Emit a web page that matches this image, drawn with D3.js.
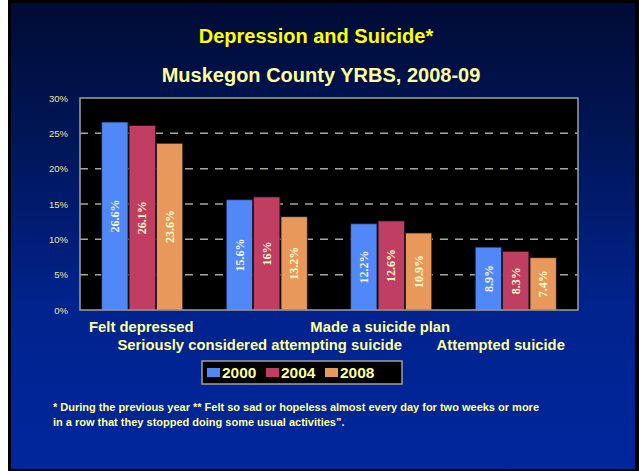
<!DOCTYPE html>
<html>
<head>
<meta charset="utf-8">
<script src="https://d3js.org/d3.v7.min.js"></script>
<title>Depression and Suicide</title>
<style>
  html, body { margin: 0; padding: 0; background: #ffffff; }
  svg { display: block; }
</style>
</head>
<body>
<svg id="chart" width="639" height="471"></svg>
<script>
// data
var categories = ["Felt depressed", "Seriously considered attempting suicide", "Made a suicide plan", "Attempted suicide"];
var years = ["2000", "2004", "2008"];
var v2000 = [26.6, 15.6, 12.2, 8.9];
var v2004 = [26.1, 16, 12.6, 8.3];
var v2008 = [23.6, 13.2, 10.9, 7.4];
var yTicks = [0, 5, 10, 15, 20, 25, 30];
var colors = ["#5088f8", "#c03e62", "#e8985a"];

var series = [v2000, v2004, v2008];
var svg = d3.select("#chart");

// slide background
var defs = svg.append("defs");
var grad = defs.append("linearGradient").attr("id", "bg")
  .attr("x1", 0).attr("y1", 0).attr("x2", 0).attr("y2", 1);
grad.append("stop").attr("offset", "0%").attr("stop-color", "#000c36");
grad.append("stop").attr("offset", "30%").attr("stop-color", "#001658");
grad.append("stop").attr("offset", "65%").attr("stop-color", "#00238e");
grad.append("stop").attr("offset", "100%").attr("stop-color", "#00269c");

svg.append("rect").attr("x", 8).attr("y", 0).attr("width", 631).attr("height", 471).attr("fill", "#000000");
svg.append("rect").attr("x", 11).attr("y", 3).attr("width", 624).attr("height", 466).attr("fill", "url(#bg)");

// titles
svg.append("text").attr("x", 316).attr("y", 43).attr("text-anchor", "middle")
  .attr("font-family", "Liberation Sans, Arial, sans-serif").attr("font-weight", 700)
  .attr("font-size", "20px").attr("fill", "#ffff00").text("Depression and Suicide*");
svg.append("text").attr("x", 321).attr("y", 82).attr("text-anchor", "middle")
  .attr("font-family", "Liberation Sans, Arial, sans-serif").attr("font-weight", 700)
  .attr("font-size", "20px").attr("fill", "#ffff99").text("Muskegon County YRBS, 2008-09");

// plot area
var pLeft = 80, pRight = 578, pTop = 98, pBottom = 310;
var x = d3.scaleBand().domain(categories).range([pLeft, pRight]);
var x1 = d3.scaleBand().domain(years).range([21.7, x.bandwidth() - 21.7]).paddingInner(0.04);
var y = d3.scaleLinear().domain([0, 30]).range([pBottom, pTop]);

svg.append("rect").attr("x", pLeft).attr("y", pTop).attr("width", pRight - pLeft).attr("height", pBottom - pTop)
  .attr("fill", "#000000");

// gridlines
svg.append("g").selectAll("line").data(yTicks.filter(function(d) { return d > 0 && d < 30; }))
  .enter().append("line")
  .attr("x1", pLeft).attr("x2", pRight)
  .attr("y1", function(d) { return y(d); }).attr("y2", function(d) { return y(d); })
  .attr("stroke", "#a8a890").attr("stroke-width", 1.5)
  .attr("stroke-dasharray", "8,7");

// bars
var groups = svg.append("g").selectAll("g").data(categories).enter().append("g")
  .attr("transform", function(d) { return "translate(" + x(d) + ",0)"; });

function rows(d, i) {
  return years.map(function(yr, j) { return { year: yr, j: j, value: series[j][i] }; });
}

groups.selectAll("rect").data(rows)
  .enter().append("rect")
  .attr("x", function(d) { return x1(d.year); })
  .attr("y", function(d) { return y(d.value); })
  .attr("width", x1.bandwidth())
  .attr("height", function(d) { return y(0) - y(d.value); })
  .attr("fill", function(d) { return colors[d.j]; })
  .attr("stroke", "#1a1a2a").attr("stroke-width", 0.8);

groups.selectAll("text").data(rows)
  .enter().append("text")
  .attr("transform", function(d) {
    var cx = x1(d.year) + x1.bandwidth() / 2;
    var cy = (y(d.value) + y(0)) / 2;
    return "translate(" + cx + "," + cy + ") rotate(-90)";
  })
  .attr("text-anchor", "middle").attr("dy", "0.35em")
  .attr("font-family", "Liberation Serif, Times New Roman, serif").attr("font-weight", 700)
  .attr("font-size", "12px").attr("fill", function(d) { return d.j === 0 ? "#f4f4e0" : "#ffffcc"; })
  .text(function(d) { return d.value + "%"; });

// border of plot
svg.append("rect").attr("x", pLeft).attr("y", pTop).attr("width", pRight - pLeft).attr("height", pBottom - pTop)
  .attr("fill", "none").attr("stroke", "#a0a0a0").attr("stroke-width", 1.5);

// y axis
var yAxis = svg.append("g").attr("transform", "translate(" + pLeft + ",0)")
  .call(d3.axisLeft(y).tickValues(yTicks).tickSize(0).tickPadding(12)
    .tickFormat(function(d) { return d + "%"; }));
yAxis.select(".domain").remove();
yAxis.selectAll("text").attr("font-family", "Liberation Sans, Arial, sans-serif")
  .attr("font-size", "9.5px").attr("fill", "#e8e8a0");

// category labels, staggered on two rows
svg.append("g").selectAll("text").data(categories).enter().append("text")
  .attr("x", function(d, i) { return x(d) + x.bandwidth() / 2 - [1, 7, 11, 15][i]; })
  .attr("y", function(d, i) { return i % 2 === 0 ? 332 : 350; })
  .attr("text-anchor", "middle")
  .attr("font-family", "Liberation Sans, Arial, sans-serif").attr("font-weight", 700)
  .attr("font-size", "14.8px").attr("fill", "#ffff99")
  .text(function(d) { return d; });

// legend
var legend = svg.append("g");
legend.append("rect").attr("x", 202).attr("y", 361).attr("width", 200).attr("height", 23)
  .attr("fill", "#000000").attr("stroke", "#a0a0a0").attr("stroke-width", 1.5);
var lx = [207, 266, 325];
years.forEach(function(yr, j) {
  legend.append("rect").attr("x", lx[j]).attr("y", 368).attr("width", 13).attr("height", 9)
    .attr("fill", colors[j]);
  legend.append("text").attr("x", lx[j] + 15).attr("y", 378)
    .attr("font-family", "Liberation Sans, Arial, sans-serif").attr("font-weight", 700)
    .attr("font-size", "15.5px").attr("fill", "#ffff99").text(yr);
});

// footnote
var note = svg.append("text").attr("font-family", "Liberation Sans, Arial, sans-serif")
  .attr("font-weight", 700).attr("font-size", "11px").attr("fill", "#ffff99");
note.append("tspan").attr("x", 53).attr("y", 411)
  .text("* During the previous year ** Felt so sad or hopeless almost every day for two weeks or more");
note.append("tspan").attr("x", 53).attr("y", 426)
  .text("in a row that they stopped doing some usual activities\u201d.");
</script>
</body>
</html>
